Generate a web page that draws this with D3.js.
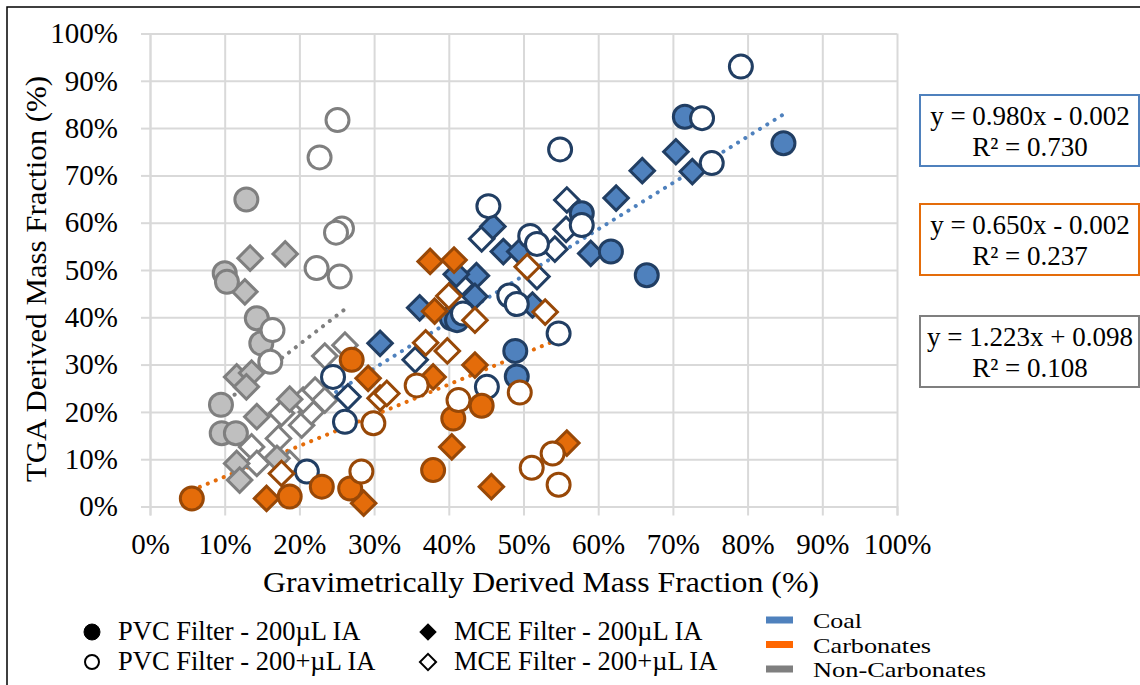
<!DOCTYPE html>
<html>
<head>
<meta charset="UTF-8">
<title>TGA vs gravimetric mass fraction</title>
<script src="https://d3js.org/d3.v7.min.js"></script>
<style>
  body { margin: 0; background: #fff; }
  svg text { font-family: "Liberation Serif", "Times New Roman", "DejaVu Serif", "Noto Serif", serif; fill: #000; }
</style>
</head>
<body>
<svg id="chart" width="1140" height="685"></svg>
<script>
// tick values (fractions)
var xTicks = [0, 0.1, 0.2, 0.3, 0.4, 0.5, 0.6, 0.7, 0.8, 0.9, 1.0];
var yTicks = [0, 0.1, 0.2, 0.3, 0.4, 0.5, 0.6, 0.7, 0.8, 0.9, 1.0];

// categories
var categories = ["Non-Carbonates", "Coal", "Carbonates"];
var markerTypes = ["MCE Filter - 200+µL IA", "MCE Filter - 200µL IA", "PVC Filter - 200µL IA", "PVC Filter - 200+µL IA"];

// [gravimetric %, TGA %] per category and filter type
// Coal
var coalPvc200 = [[71.6, 82.4], [84.8, 76.8], [57.8, 62.0], [61.7, 53.9], [66.5, 48.9], [40.4, 39.8],
  [41.1, 39.4], [48.9, 32.9], [49.1, 27.5]];
var coalPvc200p = [[79.1, 93.0], [73.9, 82.1], [54.9, 75.5], [75.2, 72.6], [45.3, 63.5], [57.8, 59.5],
  [50.9, 57.2], [51.8, 55.5], [41.9, 40.8], [48.1, 44.6], [49.1, 42.8], [54.7, 36.6], [45.1, 25.3],
  [24.5, 27.4], [26.1, 17.9], [21.0, 7.4]];
var coalMce200 = [[70.4, 75.0], [72.6, 70.8], [65.9, 71.0], [62.4, 65.2], [45.9, 59.2], [59.0, 53.5],
  [47.3, 53.9], [49.5, 53.9], [43.7, 48.8], [41.0, 49.1], [43.5, 44.4], [36.1, 42.0], [51.2, 42.6],
  [30.8, 34.5]];
var coalMce200p = [[55.8, 64.8], [55.7, 58.6], [44.4, 56.6], [54.2, 54.4], [51.8, 48.6], [41.8, 47.3],
  [35.5, 31.0], [26.5, 23.2]];
// Carbonates
var carbPvc200 = [[5.6, 1.7], [18.7, 2.1], [23.0, 4.2], [26.8, 3.8], [27.0, 31.0], [40.6, 18.6],
  [44.4, 21.3], [37.9, 7.7]];
var carbPvc200p = [[28.3, 7.4], [29.9, 17.6], [35.7, 25.6], [41.3, 22.5], [49.5, 24.1], [51.1, 8.2],
  [53.9, 11.2], [54.7, 4.6]];
var carbMce200 = [[15.6, 1.7], [28.6, 0.7], [29.2, 27.1], [37.9, 27.4], [43.5, 29.9], [40.4, 12.6],
  [45.7, 4.2], [37.5, 51.8], [40.7, 52.1], [38.1, 41.3], [55.8, 13.4]];
var carbMce200p = [[17.6, 7.0], [30.8, 22.9], [31.7, 23.9], [36.9, 34.6], [39.8, 32.9], [40.0, 44.5],
  [43.5, 39.4], [50.5, 50.7], [52.9, 41.1]];
// Non-carbonates
var ncPvc200 = [[10.0, 49.3], [10.3, 47.5], [12.9, 64.9], [14.3, 39.8], [14.9, 34.5], [9.5, 21.5],
  [9.6, 15.5], [11.5, 15.5]];
var ncPvc200p = [[25.1, 81.7], [22.7, 73.8], [25.7, 58.8], [24.9, 57.9], [22.3, 50.4], [25.4, 48.6],
  [16.4, 37.3], [16.1, 30.6]];
var ncMce200 = [[13.4, 52.5], [18.1, 53.4], [12.7, 45.4], [11.6, 27.4], [13.6, 28.2], [12.9, 25.3],
  [14.3, 19.0], [18.7, 22.7], [11.6, 9.1], [12.0, 5.6], [17.0, 10.2]];
var ncMce200p = [[23.4, 31.8], [26.1, 34.1], [17.6, 19.7], [20.3, 17.2], [21.6, 20.0], [20.5, 22.5],
  [22.1, 24.6], [23.4, 22.5], [17.2, 14.4], [13.6, 12.6], [14.3, 9.1], [18.7, 9.1]];

// linear trend lines as shown on the chart
var trendSlopes = [1.223, 0.980, 0.650];
var trendIntercepts = [0.098, -0.002, -0.002];
var trendLabels = ["y = 1.223x + 0.098", "y = 0.980x - 0.002", "y = 0.650x - 0.002"];
var r2Labels = ["R² = 0.108", "R² = 0.730", "R² = 0.237"];

var series = [
  {cat: 0, data: [ncMce200p, ncMce200, ncPvc200, ncPvc200p]},
  {cat: 1, data: [coalMce200p, coalMce200, coalPvc200, coalPvc200p]},
  {cat: 2, data: [carbMce200p, carbMce200, carbPvc200, carbPvc200p]}
];

var fills = ["#BFBFBF", "#4F81BD", "#E46C0A"];
var strokes = ["#7F7F7F", "#213E63", "#984807"];
var trendColors = ["#7F7F7F", "#4F81BD", "#E46C0A"];
var legendColors = ["#7F7F7F", "#4F81BD", "#FF6600"];
var serif = "Liberation Serif, Times New Roman, DejaVu Serif, serif";

var svg = d3.select("#chart");

// outer frame
svg.append("rect").attr("x", 7).attr("y", 7).attr("width", 1136).attr("height", 700)
  .attr("fill", "none").attr("stroke", "#000").attr("stroke-width", 1.5);

var x = d3.scaleLinear().domain([0, 1]).range([150, 897]);
var y = d3.scaleLinear().domain([0, 1]).range([506.5, 33.5]);

// grid
svg.append("g").attr("transform", "translate(0,506.5)")
  .call(d3.axisBottom(x).tickValues(xTicks).tickSizeInner(-473).tickSizeOuter(0).tickFormat(""))
  .call(function (g) { g.select(".domain").remove(); })
  .selectAll("line").attr("stroke", "#D9D9D9").attr("stroke-width", 2);
svg.append("g").attr("transform", "translate(150,0)")
  .call(d3.axisLeft(y).tickValues(yTicks).tickSizeInner(-747).tickSizeOuter(0).tickFormat(""))
  .call(function (g) { g.select(".domain").remove(); })
  .selectAll("line").attr("stroke", "#D9D9D9").attr("stroke-width", 2);

// axes with small outer ticks and labels
var xAxis = svg.append("g").attr("transform", "translate(0,506.5)")
  .call(d3.axisBottom(x).tickValues(xTicks).tickSize(9).tickPadding(18).tickFormat(d3.format(".0%")));
xAxis.attr("font-family", serif);
xAxis.select(".domain").attr("stroke", "#D9D9D9").attr("stroke-width", 2);
xAxis.selectAll("line").attr("stroke", "#D9D9D9").attr("stroke-width", 2);
xAxis.selectAll("text").attr("font-size", 29).attr("fill", "#000");

var yAxis = svg.append("g").attr("transform", "translate(150,0)")
  .call(d3.axisLeft(y).tickValues(yTicks).tickSize(9).tickPadding(23).tickFormat(d3.format(".0%")));
yAxis.attr("font-family", serif);
yAxis.select(".domain").attr("stroke", "#D9D9D9").attr("stroke-width", 2);
yAxis.selectAll("line").attr("stroke", "#D9D9D9").attr("stroke-width", 2);
yAxis.selectAll("text").attr("font-size", 29).attr("fill", "#000");

// axis titles
svg.append("text").attr("x", 541).attr("y", 592).attr("text-anchor", "middle")
  .attr("font-size", 29).attr("textLength", 556).attr("lengthAdjust", "spacingAndGlyphs")
  .text("Gravimetrically Derived Mass Fraction (%)");
svg.append("text").attr("transform", "translate(46,279) rotate(-90)").attr("text-anchor", "middle")
  .attr("font-size", 29).attr("textLength", 406).attr("lengthAdjust", "spacingAndGlyphs")
  .text("TGA Derived Mass Fraction (%)");

// trend lines over each category's x range
series.forEach(function (s) {
  var all = d3.merge(s.data);
  var xmin = d3.min(all, function (d) { return d[0]; }) / 100;
  var xmax = d3.max(all, function (d) { return d[0]; }) / 100;
  var m = trendSlopes[s.cat], b = trendIntercepts[s.cat];
  svg.append("line")
    .attr("x1", x(xmin)).attr("y1", y(m * xmin + b))
    .attr("x2", x(xmax)).attr("y2", y(m * xmax + b))
    .attr("stroke", trendColors[s.cat]).attr("stroke-width", 4)
    .attr("stroke-linecap", "round").attr("stroke-dasharray", "0.1 8.5");
});

// markers
var diamond = d3.symbol().type(d3.symbolSquare).size(300);
series.forEach(function (s) {
  s.data.forEach(function (pts, t) {
    var isDiamond = t < 2;
    var filled = (t === 1 || t === 2);
    var g = svg.append("g");
    var sel = g.selectAll("path").data(pts).enter();
    if (isDiamond) {
      sel.append("path")
        .attr("d", diamond)
        .attr("transform", function (d) { return "translate(" + x(d[0] / 100) + "," + y(d[1] / 100) + ") rotate(45)"; })
        .attr("fill", filled ? fills[s.cat] : "#fff")
        .attr("stroke", strokes[s.cat]).attr("stroke-width", 3);
    } else {
      sel.append("circle")
        .attr("cx", function (d) { return x(d[0] / 100); })
        .attr("cy", function (d) { return y(d[1] / 100); })
        .attr("r", 11.5)
        .attr("fill", filled ? fills[s.cat] : "#fff")
        .attr("stroke", strokes[s.cat]).attr("stroke-width", 3);
    }
  });
});

// equation boxes (coal, carbonates, non-carbonates from top)
var boxOrder = [1, 2, 0];
var boxTops = [95, 204, 316];
boxOrder.forEach(function (c, i) {
  var top = boxTops[i];
  svg.append("rect").attr("x", 920).attr("y", top).attr("width", 219).attr("height", 71)
    .attr("fill", "#fff").attr("stroke", trendColors[c]).attr("stroke-width", 2);
  svg.append("text").attr("x", 1030).attr("y", top + 30).attr("text-anchor", "middle")
    .attr("font-size", 27).text(trendLabels[c]);
  svg.append("text").attr("x", 1030).attr("y", top + 61).attr("text-anchor", "middle")
    .attr("font-size", 27).text(r2Labels[c]);
});

// legend: marker types
var legendMarkers = [
  {label: markerTypes[2], shape: "circle", filled: true, x: 92, y: 632},
  {label: markerTypes[3], shape: "circle", filled: false, x: 92, y: 662},
  {label: markerTypes[1], shape: "diamond", filled: true, x: 428, y: 632},
  {label: markerTypes[0], shape: "diamond", filled: false, x: 428, y: 662}
];
legendMarkers.forEach(function (d) {
  if (d.shape === "circle") {
    svg.append("circle").attr("cx", d.x).attr("cy", d.y).attr("r", d.filled ? 8 : 7)
      .attr("fill", d.filled ? "#000" : "#fff").attr("stroke", "#000").attr("stroke-width", d.filled ? 1 : 2);
  } else {
    svg.append("path").attr("d", d3.symbol().type(d3.symbolSquare).size(130))
      .attr("transform", "translate(" + d.x + "," + d.y + ") rotate(45)")
      .attr("fill", d.filled ? "#000" : "#fff").attr("stroke", "#000").attr("stroke-width", d.filled ? 1 : 2);
  }
  svg.append("text").attr("x", d.x + 26).attr("y", d.y + 8).attr("font-size", 26.5).text(d.label);
});

// legend: categories
var legendCats = [1, 2, 0];
var legendNames = ["Coal", "Carbonates", "Non-Carbonates"];
var legendWidths = [49, 118, 173];
legendCats.forEach(function (c, i) {
  var ly = 620 + i * 24.5;
  svg.append("rect").attr("x", 766).attr("y", ly - 3.5).attr("width", 27).attr("height", 7)
    .attr("fill", legendColors[c]);
  svg.append("text").attr("x", 813).attr("y", ly + 8).attr("font-size", 22)
    .attr("textLength", legendWidths[i]).attr("lengthAdjust", "spacingAndGlyphs").text(legendNames[i]);
});
</script>
</body>
</html>
